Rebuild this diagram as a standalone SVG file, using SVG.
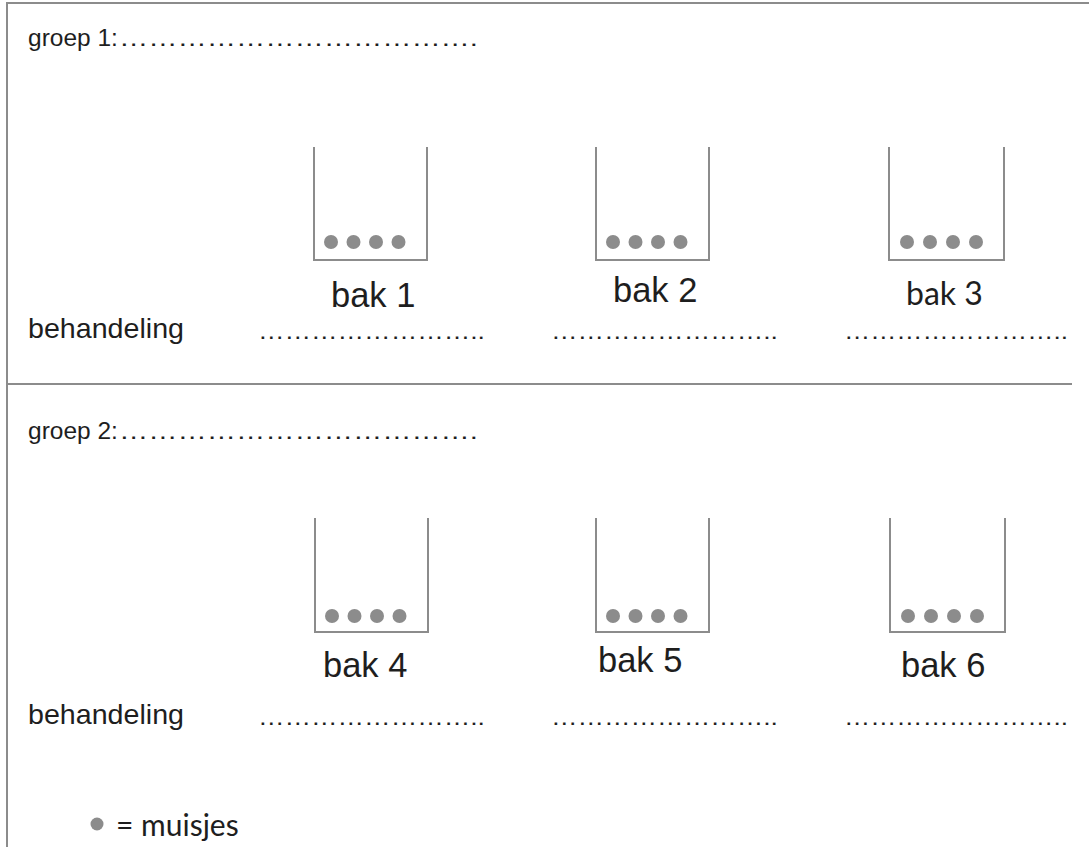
<svg xmlns="http://www.w3.org/2000/svg" width="1089" height="847" viewBox="0 0 1089 847">
<style>
.frame{stroke:#8c8c8c;stroke-width:2;fill:none}
.box{stroke:#8c8c8c;stroke-width:2;fill:none}
.m{fill:#8c8c8c}
.a{font-family:"Liberation Sans",Arial,sans-serif;fill:#1e1e1e}
.c{font-family:Lato,"Open Sans",sans-serif;fill:#1e1e1e}
.bak{font-size:34.5px}
.beh{font-size:28px}
.dots{font-size:22px}
.grp{font-size:24.5px}
</style>
<rect width="1089" height="847" fill="#fff"/>
<g id="frame">
<path class="frame" d="M7,847 V3 H1089"/>
<path class="frame" d="M7,384 H1072"/>
</g>
<g id="groep1">
<text class="a grp" x="28" y="46">groep 1:</text>
<text class="a dots" x="119" y="46" textLength="359" lengthAdjust="spacingAndGlyphs">……………………………….</text>
<text class="a beh" x="28" y="338" textLength="156" lengthAdjust="spacingAndGlyphs">behandeling</text>
<text class="a dots" x="258" y="339" textLength="227" lengthAdjust="spacingAndGlyphs">……………………..</text>
<text class="a dots" x="551" y="339" textLength="227" lengthAdjust="spacingAndGlyphs">……………………..</text>
<text class="a dots" x="844" y="339" textLength="224" lengthAdjust="spacingAndGlyphs">……………………..</text>
</g>
<g id="bak1">
<path class="box" d="M314,147 V260 H427 V147"/>
<circle class="m" cx="331" cy="242" r="7"/><circle class="m" cx="353.5" cy="242" r="7"/><circle class="m" cx="376" cy="242" r="7"/><circle class="m" cx="398.5" cy="242" r="7"/>
<text class="a bak" x="331" y="307">bak 1</text>
</g>
<g id="bak2">
<path class="box" d="M596,147 V260 H709 V147"/>
<circle class="m" cx="613" cy="242" r="7"/><circle class="m" cx="635.5" cy="242" r="7"/><circle class="m" cx="658" cy="242" r="7"/><circle class="m" cx="680.5" cy="242" r="7"/>
<text class="a bak" x="613" y="302">bak 2</text>
</g>
<g id="bak3">
<path class="box" d="M889,147 V260 H1004 V147"/>
<circle class="m" cx="907" cy="242" r="7"/><circle class="m" cx="930" cy="242" r="7"/><circle class="m" cx="953" cy="242" r="7"/><circle class="m" cx="976" cy="242" r="7"/>
<text class="c" x="906" y="305" font-size="32">bak 3</text>
</g>
<g id="groep2">
<text class="a grp" x="28" y="439">groep 2:</text>
<text class="a dots" x="119" y="439" textLength="359" lengthAdjust="spacingAndGlyphs">……………………………….</text>
<text class="a beh" x="28" y="724" textLength="156" lengthAdjust="spacingAndGlyphs">behandeling</text>
<text class="a dots" x="258" y="725" textLength="227" lengthAdjust="spacingAndGlyphs">……………………..</text>
<text class="a dots" x="551" y="725" textLength="227" lengthAdjust="spacingAndGlyphs">……………………..</text>
<text class="a dots" x="844" y="725" textLength="224" lengthAdjust="spacingAndGlyphs">……………………..</text>
</g>
<g id="bak4">
<path class="box" d="M315,518 V632 H428 V518"/>
<circle class="m" cx="332" cy="616" r="7"/><circle class="m" cx="354.5" cy="616" r="7"/><circle class="m" cx="377" cy="616" r="7"/><circle class="m" cx="399.5" cy="616" r="7"/>
<text class="a bak" x="323" y="677">bak 4</text>
</g>
<g id="bak5">
<path class="box" d="M596,518 V632 H709 V518"/>
<circle class="m" cx="613" cy="616" r="7"/><circle class="m" cx="635.5" cy="616" r="7"/><circle class="m" cx="658" cy="616" r="7"/><circle class="m" cx="680.5" cy="616" r="7"/>
<text class="a bak" x="598" y="672">bak 5</text>
</g>
<g id="bak6">
<path class="box" d="M890,518 V632 H1005 V518"/>
<circle class="m" cx="908" cy="616" r="7"/><circle class="m" cx="931" cy="616" r="7"/><circle class="m" cx="954" cy="616" r="7"/><circle class="m" cx="977" cy="616" r="7"/>
<text class="a bak" x="901" y="677">bak 6</text>
</g>
<g id="legend">
<circle class="m" cx="97" cy="824" r="6.5"/>
<text class="c" x="116" y="836" font-size="30">= muisjes</text>
</g>
</svg>
